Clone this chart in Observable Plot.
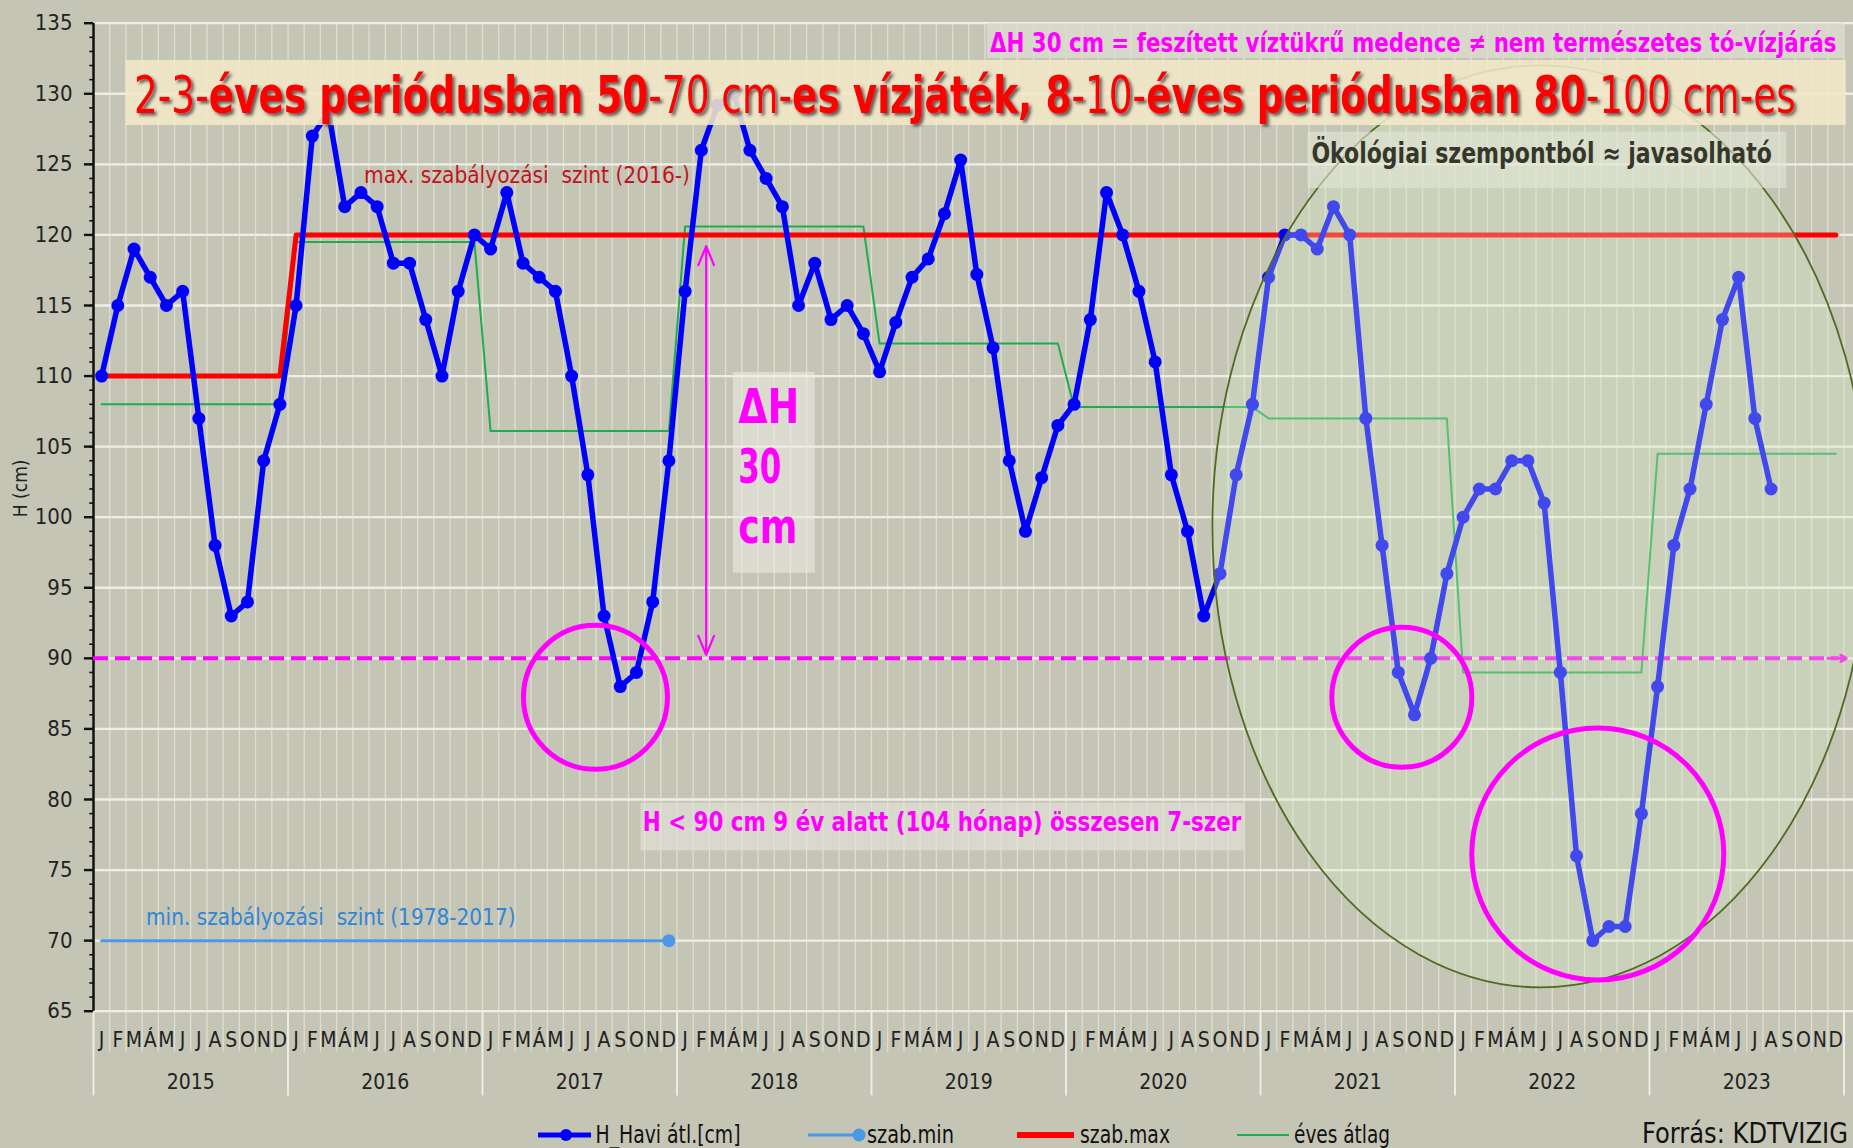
<!DOCTYPE html>
<html><head><meta charset="utf-8">
<script src="https://cdn.jsdelivr.net/npm/d3@7"></script>
<script src="https://cdn.jsdelivr.net/npm/@observablehq/plot@0.6"></script>
<style>
html,body{margin:0;padding:0;background:#c5c5b6;width:1853px;height:1148px;overflow:hidden;}
#chart{position:absolute;left:0;top:0;}
#legend{position:absolute;left:0;top:1100px;}
</style></head><body>
<div id="chart"></div><div id="legend"></div>
<script>
// ---------------- DATA ----------------
const years = [2015, 2016, 2017, 2018, 2019, 2020, 2021, 2022, 2023];
const monthLetters = ["J","F","M","Á","M","J","J","A","S","O","N","D"];
const h2015 = [110, 115, 119, 117, 115, 116, 107, 98, 93, 94, 104, 108];
const h2016 = [115, 127, 128.7, 122, 123, 122, 118, 118, 114, 110, 116, 120];
const h2017 = [119, 123, 118, 117, 116, 110, 103, 93, 88, 89, 94, 104];
const h2018 = [116, 126, 129.2, 130, 126, 124, 122, 115, 118, 114, 115, 113];
const h2019 = [110.3, 113.8, 117, 118.3, 121.5, 125.3, 117.2, 112, 104, 99, 102.8, 106.5];
const h2020 = [108, 114, 123, 120, 116, 111, 103, 99, 93, 96, 103, 108];
const h2021 = [117, 120, 120, 119, 122, 120, 107, 98, 89, 86, 90, 96];
const h2022 = [100, 102, 102, 104, 104, 101, 89, 76, 70, 71, 71, 79];
const h2023 = [88, 98, 102, 108, 114, 117, 107, 102];
const evesAtlag = [108, 119.5, 106.1, 120.6, 112.3, 107.8, 107.0, 89.0, 104.5];
const szabMax = [110, 120, 120, 120, 120, 120, 120, 120, 120];
const szabMin = [70, 70, 70];
const hatarErtek = 90;
const yTicks = [65, 70, 75, 80, 85, 90, 95, 100, 105, 110, 115, 120, 125, 130, 135];

// ---------------- TABLES ----------------
const haviRows = [h2015, h2016, h2017, h2018, h2019, h2020, h2021, h2022, h2023]
  .flatMap((arr, yi) => arr.map((v, m) => ({t: yi * 12 + m + 0.5, v})));
const perYear = (vals) => vals.flatMap((v, yi) => d3.range(12).map(m => ({t: yi * 12 + m + 0.5, v})));
const avgRows = perYear(evesAtlag);
const maxRows = perYear(szabMax);
const minRows = perYear(szabMin);
const monthRows = years.flatMap((y, yi) => monthLetters.map((l, m) => ({t: yi * 12 + m + 0.5, l})));
const yearRows = years.map((y, yi) => ({t: yi * 12 + 6, y: String(y)}));
const minorTicks = d3.range(65, 136, 1);

const FONT = '"Liberation Sans Narrow","Arial Narrow","DejaVu Sans Condensed","Liberation Sans",Arial,sans-serif';
const MAG = "#ff00ff";

const plot = Plot.plot({
  width: 1853, height: 1100,
  marginLeft: 93, marginRight: 9.5, marginTop: 22.7, marginBottom: 89.3,
  x: {domain: [0, 108], axis: null},
  y: {domain: [65, 135], axis: null},
  style: {background: "transparent", fontFamily: FONT, overflow: "visible"},
  marks: [
    // month grid
    Plot.ruleX(d3.range(0, 109), {y1: 65, y2: 135, stroke: "#e4e4da", strokeOpacity: 0.8, strokeWidth: 1.3}),
    Plot.ruleX(d3.range(0, 109), {y1: 65, y2: 62.1, stroke: "#e4e4da", strokeOpacity: 0.8, strokeWidth: 1.3}),
    Plot.ruleX(d3.range(0, 109, 12), {y1: 65, y2: 59.0, stroke: "#f0f0e8", strokeWidth: 1.8}),
    // horizontal grid
    Plot.ruleY(yTicks, {x1: 0, x2: 108.6, stroke: "#eeeee6", strokeWidth: 2.3}),
    // y axis
    Plot.ruleX([0], {y1: 65, y2: 135, stroke: "#111", strokeWidth: 2.5}),
    Plot.ruleY(minorTicks, {x1: -0.23, x2: 0, stroke: "#111", strokeWidth: 1.6}),
    Plot.ruleY(yTicks, {x1: -0.56, x2: 0, stroke: "#111", strokeWidth: 2.4}),
    Plot.text(yTicks, {x: 0, y: d => d, text: d => String(d), dx: -21, textAnchor: "end", fontSize: 22, fill: "#222"}),
    Plot.text(["H (cm)"], {frameAnchor: "left", dx: -73, rotate: -90, fontSize: 19, fill: "#222"}),
    // x labels
    Plot.text(monthRows, {x: "t", y: 65, dy: 29.5, text: "l", fontSize: 21, fill: "#222"}),
    Plot.text(yearRows, {x: "t", y: 65, dy: 71, text: "y", fontSize: 21, fill: "#222"}),
    // series
    Plot.line(avgRows, {x: "t", y: "v", stroke: "#1eac4e", strokeWidth: 2}),
    Plot.line(minRows, {x: "t", y: "v", stroke: "#4a98e6", strokeWidth: 3}),
    Plot.dot(minRows.slice(-1), {x: "t", y: "v", r: 6.5, fill: "#4a98e6"}),
    Plot.line(maxRows, {x: "t", y: "v", stroke: "#ff0000", strokeWidth: 5}),
    Plot.ruleY([hatarErtek], {x1: 0, x2: 107.7, stroke: MAG, strokeWidth: 4, strokeDasharray: "15,7"}),
    Plot.arrow([hatarErtek], {x1: 107.0, x2: 108.14, y1: d => d, y2: d => d, stroke: MAG, strokeWidth: 3, headLength: 12, headAngle: 60}),
    Plot.line(haviRows, {x: "t", y: "v", stroke: "#0000ff", strokeWidth: 5.5}),
    Plot.dot(haviRows, {x: "t", y: "v", r: 6.5, fill: "#0000ff"}),
    // delta H arrows (from middle to 120 and to 90)
    Plot.arrow([0], {x1: 37.8, x2: 37.8, y1: 105, y2: 119.2, stroke: MAG, strokeWidth: 2.2, headLength: 14, headAngle: 45}),
    Plot.arrow([0], {x1: 37.8, x2: 37.8, y1: 105, y2: 90.25, stroke: MAG, strokeWidth: 2.2, headLength: 14, headAngle: 45})
  ]
});
document.getElementById("chart").appendChild(plot);

// ---------------- ANNOTATIONS (positioned through the plot's scales) ----------------
const xsc = plot.scale("x"), ysc = plot.scale("y");
const X = d3.scaleLinear(xsc.domain, xsc.range);
const Y = d3.scaleLinear(ysc.domain, ysc.range);
const svg = d3.select(plot);
const defs = svg.append("defs");
const f = defs.append("filter").attr("id", "tshadow").attr("x", "-5%").attr("y", "-30%").attr("width", "110%").attr("height", "160%");
f.append("feDropShadow").attr("dx", 2.5).attr("dy", 2.5).attr("stdDeviation", 1.6).attr("flood-color", "#3a3a3a").attr("flood-opacity", 0.8);

const ann = svg.append("g").attr("font-family", FONT).attr("text-anchor", "start");

// ecological ellipse (overlay)
ann.append("ellipse").attr("cx", X(89.3)).attr("cy", Y(99.32)).attr("rx", 328).attr("ry", 461)
  .attr("fill", "#d7f0c3").attr("fill-opacity", 0.3).attr("stroke", "#4f6a22").attr("stroke-width", 1.8);

// pink circles
[[31.0, 87.2, 72], [80.75, 87.2, 70], [92.84, 76.1, 126]].forEach(([cx, cy, r]) => {
  ann.append("circle").attr("cx", X(cx)).attr("cy", Y(cy)).attr("r", r)
    .attr("fill", "none").attr("stroke", MAG).attr("stroke-width", 5);
});

function box(x1, x2, y1, y2, fill, op) {
  ann.append("rect").attr("x", X(x1)).attr("y", Y(y1)).attr("width", X(x2) - X(x1)).attr("height", Y(y2) - Y(y1))
    .attr("fill", fill).attr("fill-opacity", op);
}
function txt(x, y, s, size, fill, weight, len) {
  const t = ann.append("text").attr("x", X(x)).attr("y", Y(y)).attr("font-size", size).attr("fill", fill)
    .attr("font-weight", weight).attr("text-anchor", "start").style("white-space", "pre").text(s);
  if (len) t.attr("textLength", len).attr("lengthAdjust", "spacingAndGlyphs");
  return t;
}

// title box
box(2.0, 108.14, 132.36, 127.75, "#f2e8c8", 0.88);
const title = ann.append("text").attr("x", X(2.53)).attr("y", Y(128.58)).attr("font-size", 52).attr("fill", "#ff0000")
  .attr("text-anchor", "start").attr("filter", "url(#tshadow)").style("white-space", "pre")
  .attr("textLength", X(105.06) - X(2.53)).attr("lengthAdjust", "spacingAndGlyphs");
[["2-3-", "normal"], ["éves periódusban 50", "bold"], ["-70 cm-", "normal"], ["es vízjáték, 8", "bold"],
 ["-10-", "normal"], ["éves periódusban 80", "bold"], ["-100 cm-es", "normal"]]
  .forEach(([s, w]) => title.append("tspan").attr("font-weight", w).text(s));

// top-right magenta note
box(55.15, 108.0, 134.98, 132.5, "#dcdcd0", 0.75);
txt(55.34, 132.93, "ΔH 30 cm = feszített víztükrű medence ≠ nem természetes tó-vízjárás", 27, MAG, "bold", X(107.56) - X(55.34));

// Ökológiai
box(74.93, 104.47, 127.28, 123.29, "#e2e6d6", 0.6);
txt(75.17, 125.08, "Ökológiai szempontból ≈ javasolható", 28, "#35372b", "bold", X(103.58) - X(75.17));

// max / min labels
txt(16.72, 123.65, "max. szabályozási  szint (2016-)", 23, "#c0141c", "normal", X(36.83) - X(16.72));
txt(3.27, 71.1, "min. szabályozási  szint (1978-2017)", 23, "#2f86d6", "normal", X(26.07) - X(3.27));

// H < 90
box(33.78, 70.99, 79.74, 76.36, "#e4e4da", 0.6);
txt(33.92, 77.7, "H < 90 cm 9 év alatt (104 hónap) összesen 7-szer", 26, MAG, "bold", X(70.85) - X(33.92));

// ΔH 30 cm box
box(39.48, 44.54, 110.26, 96.03, "#ececE4", 0.55);
txt(39.81, 106.64, "ΔH", 48, MAG, "bold", 61);
txt(39.81, 102.4, "30", 48, MAG, "bold", 43);
txt(39.81, 98.13, "cm", 48, MAG, "bold", 59);

// ---------------- LEGEND ----------------
const lg = d3.select("#legend").append("svg").attr("width", 1853).attr("height", 48)
  .attr("font-family", FONT);
function ltext(x, s, len, size) {
  lg.append("text").attr("x", x).attr("y", 43.3).attr("font-size", size || 25).attr("fill", "#111")
    .attr("textLength", len).attr("lengthAdjust", "spacingAndGlyphs").text(s);
}
lg.append("line").attr("x1", 538).attr("x2", 591).attr("y1", 35).attr("y2", 35).attr("stroke", "#0000ff").attr("stroke-width", 5);
lg.append("circle").attr("cx", 566).attr("cy", 35).attr("r", 6).attr("fill", "#0000ff");
ltext(595.5, "H_Havi átl.[cm]", 145);
lg.append("line").attr("x1", 808).attr("x2", 859).attr("y1", 35).attr("y2", 35).attr("stroke", "#4a98e6").attr("stroke-width", 3);
lg.append("circle").attr("cx", 859).attr("cy", 35).attr("r", 6.5).attr("fill", "#4a98e6");
ltext(867, "szab.min", 87);
lg.append("line").attr("x1", 1017).attr("x2", 1074).attr("y1", 35).attr("y2", 35).attr("stroke", "#ff0000").attr("stroke-width", 6);
ltext(1080, "szab.max", 90);
lg.append("line").attr("x1", 1237).attr("x2", 1289).attr("y1", 35).attr("y2", 35).attr("stroke", "#1eac4e").attr("stroke-width", 2);
ltext(1294, "éves átlag", 96);
ltext(1642, "Forrás: KDTVIZIG", 206, 28);
</script>
</body></html>
